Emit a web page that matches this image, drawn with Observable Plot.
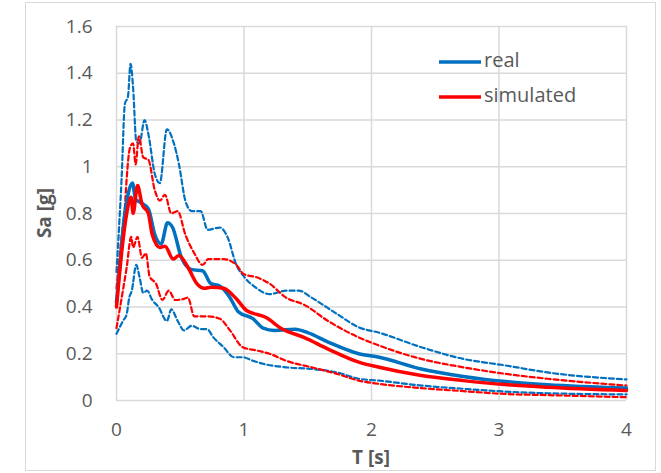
<!DOCTYPE html>
<html>
<head>
<meta charset="utf-8">
<script src="https://cdn.jsdelivr.net/npm/d3@7"></script>
<script src="https://cdn.jsdelivr.net/npm/@observablehq/plot@0.6"></script>
<style>
  html, body { margin: 0; padding: 0; background: #fff; }
  #chart { position: relative; width: 661px; height: 473px; }
</style>
</head>
<body>
<div id="chart"></div>
<script>
// ---- data ----
const realT  = [0,0.03,0.06,0.09,0.125,0.15,0.18,0.25,0.3,0.35,0.4,0.44,0.51,0.59,0.675,0.74,0.81,0.89,0.955,1.07,1.15,1.24,1.4,1.5,1.66,1.9,2.06,2.39,2.72,3.05,3.38,4];
const realSa = [0.42,0.6,0.78,0.88,0.93,0.86,0.85,0.82,0.71,0.67,0.76,0.74,0.61,0.56,0.555,0.50,0.49,0.44,0.38,0.35,0.31,0.30,0.305,0.29,0.25,0.20,0.185,0.135,0.103,0.081,0.067,0.053];

const simT  = [0,0.05,0.08,0.115,0.13,0.165,0.2,0.25,0.28,0.34,0.38,0.445,0.49,0.56,0.63,0.69,0.74,0.84,0.94,1.02,1.17,1.3,1.47,1.66,1.9,2.06,2.39,2.72,3.05,3.38,4];
const simSa = [0.40,0.68,0.80,0.87,0.80,0.92,0.84,0.80,0.71,0.655,0.66,0.605,0.62,0.57,0.50,0.48,0.485,0.48,0.435,0.385,0.356,0.306,0.27,0.22,0.164,0.142,0.107,0.085,0.068,0.057,0.043];

const realUpT  = [0,0.04,0.066,0.09,0.11,0.13,0.155,0.18,0.22,0.25,0.3,0.34,0.395,0.45,0.49,0.54,0.59,0.66,0.715,0.81,0.87,0.94,1.0,1.1,1.2,1.33,1.43,1.53,1.73,1.9,2.06,2.39,2.72,3.05,3.38,4];
const realUpSa = [0.55,0.95,1.27,1.30,1.44,1.34,1.11,1.10,1.20,1.14,0.97,0.93,1.16,1.10,1.01,0.855,0.81,0.81,0.73,0.74,0.70,0.58,0.53,0.48,0.455,0.47,0.47,0.44,0.37,0.313,0.29,0.228,0.178,0.15,0.12,0.09];

const realLoT  = [0,0.05,0.08,0.1,0.12,0.155,0.18,0.21,0.24,0.28,0.33,0.395,0.43,0.48,0.53,0.59,0.66,0.71,0.76,0.84,0.92,0.99,1.07,1.15,1.33,1.53,1.73,1.9,2.06,2.39,2.72,3.05,3.38,4];
const realLoSa = [0.285,0.34,0.37,0.44,0.47,0.58,0.53,0.46,0.47,0.43,0.40,0.34,0.39,0.34,0.30,0.32,0.305,0.305,0.27,0.228,0.185,0.185,0.17,0.157,0.142,0.135,0.12,0.093,0.085,0.064,0.05,0.038,0.031,0.026];

const simUpT  = [0,0.04,0.066,0.08,0.105,0.13,0.15,0.175,0.21,0.25,0.3,0.34,0.38,0.43,0.48,0.54,0.61,0.675,0.72,0.84,0.94,1.0,1.1,1.2,1.33,1.47,1.66,1.9,2.06,2.39,2.72,3.05,3.38,4];
const simUpSa = [0.48,0.7,0.83,0.95,1.08,1.10,1.01,1.13,1.04,1.03,0.90,0.855,0.88,0.80,0.81,0.71,0.63,0.58,0.605,0.605,0.58,0.54,0.527,0.50,0.44,0.41,0.34,0.27,0.235,0.178,0.142,0.114,0.093,0.064];

const simLoT  = [0,0.05,0.08,0.115,0.13,0.165,0.2,0.23,0.26,0.31,0.36,0.41,0.46,0.53,0.56,0.61,0.71,0.81,0.89,0.99,1.1,1.2,1.33,1.53,1.73,1.9,2.06,2.39,2.72,3.05,3.38,4];
const simLoSa = [0.31,0.47,0.57,0.70,0.655,0.70,0.61,0.63,0.53,0.50,0.43,0.47,0.43,0.435,0.44,0.36,0.36,0.35,0.30,0.228,0.214,0.2,0.17,0.142,0.114,0.085,0.071,0.053,0.04,0.028,0.023,0.014];

const xTicks = [0, 1, 2, 3, 4];
const yTicks = [0, 0.2, 0.4, 0.6, 0.8, 1, 1.2, 1.4, 1.6];
const legendLabels = ["real", "simulated"];
const xLabel = "T [s]";
const yLabel = "Sa [g]";

// ---- styles ----
const BLUE = "#0070C0", RED = "#FF0000", GRID = "#d9d9d9", TEXT = "#595959";
const FONT = "'Open Sans', sans-serif";
const FS = 19;

const toRows = (T, S) => T.map((t, i) => ({T: t, Sa: S[i]}));

const W = 661, H = 473;
const mL = 116, mR = 35, mT = 26, mB = 73;

const dashed = {x: "T", y: "Sa", strokeWidth: 2.2, strokeDasharray: "5,3", curve: "monotone-x"};
const solid  = {x: "T", y: "Sa", strokeWidth: 3.5, curve: "monotone-x"};

const plot = Plot.plot({
  width: W,
  height: H,
  marginLeft: mL,
  marginRight: mR,
  marginTop: mT,
  marginBottom: mB,
  style: {fontFamily: FONT, fontSize: FS + "px", color: TEXT, background: "transparent", overflow: "visible"},
  x: {domain: [0, 4], ticks: xTicks, label: null},
  y: {domain: [0, 1.6], ticks: yTicks, label: null},
  marks: [
    Plot.gridX(xTicks, {stroke: GRID, strokeOpacity: 1, strokeWidth: 1.5}),
    Plot.gridY(yTicks, {stroke: GRID, strokeOpacity: 1, strokeWidth: 1.5}),
    Plot.axisX(xTicks, {tickSize: 0, tickPadding: 22, fontSize: FS, fill: TEXT, tickFormat: d => String(d)}),
    Plot.axisY(yTicks, {tickSize: 0, tickPadding: 24, fontSize: FS, fill: TEXT, tickFormat: d => String(+d.toFixed(1))}),
    Plot.line(toRows(realUpT, realUpSa), {...dashed, stroke: BLUE}),
    Plot.line(toRows(realLoT, realLoSa), {...dashed, stroke: BLUE}),
    Plot.line(toRows(simUpT, simUpSa), {...dashed, stroke: RED}),
    Plot.line(toRows(simLoT, simLoSa), {...dashed, stroke: RED}),
    Plot.line(toRows(realT, realSa), {...solid, stroke: BLUE}),
    Plot.line(toRows(simT, simSa), {...solid, stroke: RED})
  ]
});

const svg = d3.select(plot);

// outer chart border
svg.insert("rect", ":first-child")
  .attr("x", 25.5).attr("y", 2.5).attr("width", 630).attr("height", 468)
  .attr("fill", "none").attr("stroke", GRID).attr("stroke-width", 1);

// axis titles
svg.append("text")
  .attr("x", mL + (W - mL - mR) / 2).attr("y", 459)
  .attr("text-anchor", "middle").attr("dominant-baseline", "middle")
  .attr("font-family", FONT).attr("font-size", FS).attr("font-weight", "bold")
  .attr("fill", TEXT).text(xLabel);

svg.append("text")
  .attr("transform", `translate(46,${mT + (H - mT - mB) / 2}) rotate(-90)`)
  .attr("text-anchor", "middle").attr("dominant-baseline", "middle")
  .attr("font-family", FONT).attr("font-size", FS).attr("font-weight", "bold")
  .attr("fill", TEXT).text(yLabel);

// legend
const legColors = [BLUE, RED];
const legY = [62, 97];
legendLabels.forEach((lab, i) => {
  svg.append("line")
    .attr("x1", 439).attr("x2", 481).attr("y1", legY[i]).attr("y2", legY[i])
    .attr("stroke", legColors[i]).attr("stroke-width", 3.5);
  svg.append("text")
    .attr("x", 484).attr("y", legY[i])
    .attr("text-anchor", "start").attr("dominant-baseline", "middle")
    .attr("font-family", FONT).attr("font-size", 20)
    .attr("fill", TEXT).text(lab);
});

document.getElementById("chart").appendChild(plot);
</script>
</body>
</html>
